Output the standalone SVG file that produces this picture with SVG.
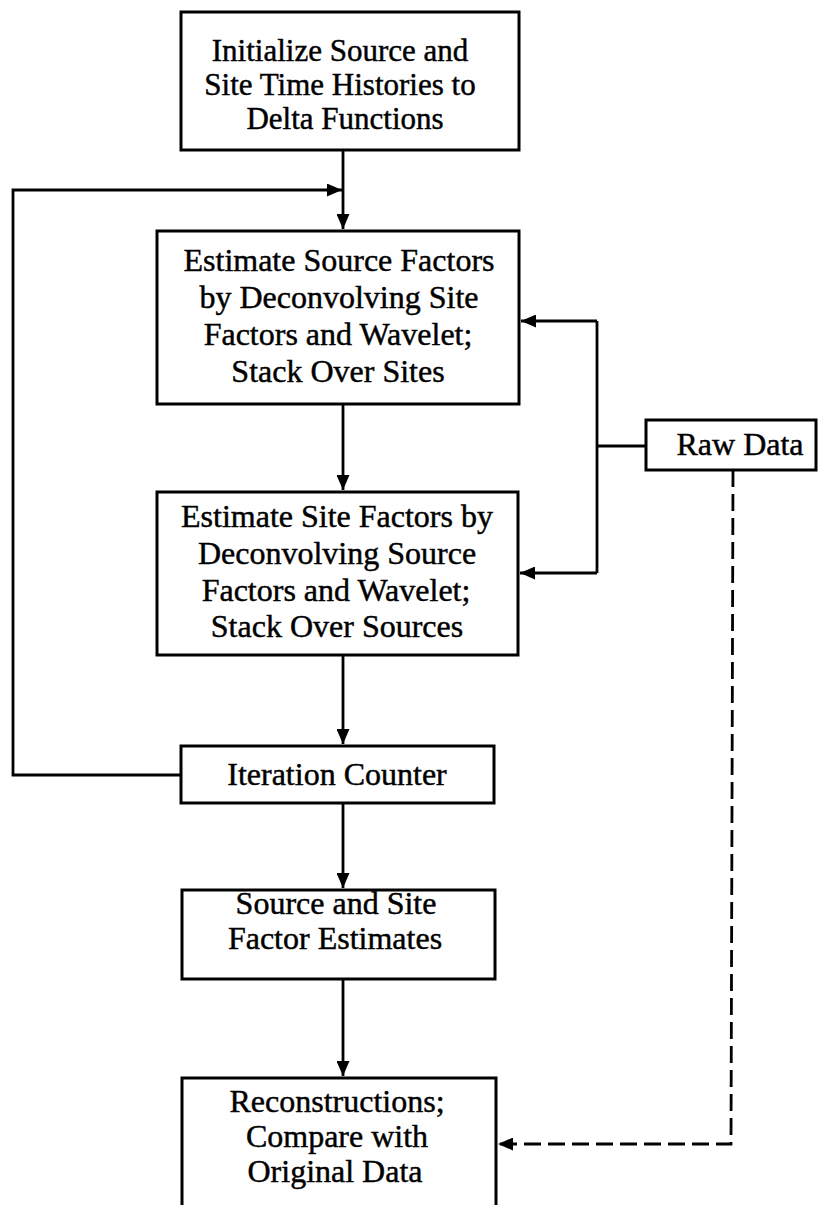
<svg xmlns="http://www.w3.org/2000/svg" width="818" height="1205" viewBox="0 0 818 1205">
<defs>
<style>
.box{fill:#fff;stroke:#000;stroke-width:3}
.t{font-family:"Liberation Serif","Times New Roman",serif;font-size:32px;fill:#000;stroke:#000;stroke-width:0.45;text-anchor:middle}
.s{font-size:31px}
.c{fill:none;stroke:#000;stroke-width:2.8}
.d{fill:none;stroke:#000;stroke-width:2.8;stroke-dasharray:17 7}
</style>
<marker id="ah" viewBox="0 0 15 13" refX="15" refY="6.5" markerWidth="15" markerHeight="13" markerUnits="userSpaceOnUse" orient="auto">
<path d="M0,0 L15,6.5 L0,13 Z" fill="#000"/>
</marker>
</defs>
<rect width="818" height="1205" fill="#fff"/>
<g id="connectors">
<path class="c" d="M343,150 V229" marker-end="url(#ah)"/>
<path class="c" d="M181,775 H13 V190 H342" marker-end="url(#ah)"/>
<path class="c" d="M343,404 V490" marker-end="url(#ah)"/>
<path class="c" d="M343,655 V744" marker-end="url(#ah)"/>
<path class="c" d="M343,803 V888" marker-end="url(#ah)"/>
<path class="c" d="M343,979 V1076" marker-end="url(#ah)"/>
<path class="c" d="M646,446 H597"/>
<path class="c" d="M597,321 V573"/>
<path class="c" d="M597,321 H521" marker-end="url(#ah)"/>
<path class="c" d="M597,573 H520" marker-end="url(#ah)"/>
<path class="d" d="M733,470 L731,1144 H498" marker-end="url(#ah)"/>
</g>
<g id="n1">
<rect class="box" x="181" y="12" width="338" height="138"/>
<text class="t s" x="340" y="61">Initialize Source and</text>
<text class="t s" x="340" y="95">Site Time Histories to</text>
<text class="t s" x="345" y="129">Delta Functions</text>
</g>
<g id="n2">
<rect class="box" x="157" y="231" width="362" height="173"/>
<text class="t" x="339" y="271">Estimate Source Factors</text>
<text class="t" x="339" y="308">by Deconvolving Site</text>
<text class="t" x="338" y="345">Factors and Wavelet;</text>
<text class="t" x="338" y="382">Stack Over Sites</text>
</g>
<g id="n3">
<rect class="box" x="157" y="492" width="361" height="163"/>
<text class="t" x="337" y="527">Estimate Site Factors by</text>
<text class="t" x="337" y="564">Deconvolving Source</text>
<text class="t" x="336" y="601">Factors and Wavelet;</text>
<text class="t" x="337" y="637">Stack Over Sources</text>
</g>
<g id="n4">
<rect class="box" x="181" y="746" width="313" height="57"/>
<text class="t" x="337" y="785">Iteration Counter</text>
</g>
<g id="n5">
<rect class="box" x="182" y="890" width="313" height="89"/>
<text class="t" x="336" y="914">Source and Site</text>
<text class="t" x="335" y="949">Factor Estimates</text>
</g>
<g id="n6">
<path class="box" d="M182,1210 V1078 H496 V1210"/>
<text class="t" x="337" y="1112">Reconstructions;</text>
<text class="t" x="337" y="1147">Compare with</text>
<text class="t" x="335" y="1182">Original Data</text>
</g>
<g id="n7">
<rect class="box" x="646" y="420" width="170" height="50"/>
<text class="t" x="740" y="455">Raw Data</text>
</g>
</svg>
